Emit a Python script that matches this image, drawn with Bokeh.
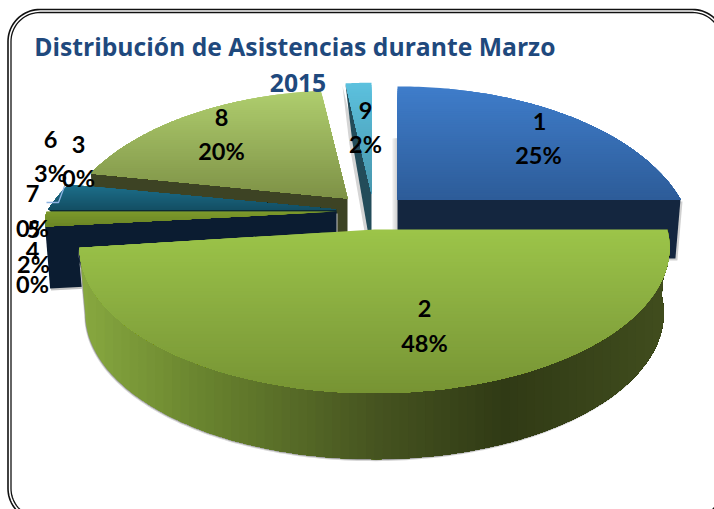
import math
from bokeh.plotting import figure
from bokeh.models import ColumnDataSource
from bokeh.core.properties import value as bk_value
from bokeh.embed import file_html
from bokeh.resources import INLINE

# ---- data -------------------------------------------------------------
title_lines = ["Distribución de Asistencias durante  Marzo", "2015"]
categories = ["1", "2", "3", "4", "5", "6", "7", "8", "9"]
percentages = [25, 48, 0, 0, 2, 3, 0, 20, 2]

# ---- layout / style ---------------------------------------------------
W, H = 714, 509
FONT = "Lato"
TITLE_FONT = "Open Sans"
geom = {
    "1": dict(cx=397, cy=199, a=283, b=147, p=.30, t=59, sx=.982),
    "2": dict(cx=374, cy=229, a=293, b=144, p=.12, t=66, sx=.98),
    "5": dict(cx=336, cy=211, a=290, b=118, p=.10, t=62, sx=.983),
    "6": dict(cx=336, cy=209, a=288, b=141, p=.30, t=5, sx=.983),
    "8": dict(cx=347, cy=198, a=276, b=141, p=.30, t=59, sx=.983),
    "9": dict(cx=371, cy=193, a=270, b=144, p=.30, t=59, sx=.73),
}
top_stops = {
    "1": [(0, "#3f7dca"), (1, "#2d5c99")],
    "2": [(0, "#9cc549"), (.55, "#87a93f"), (1, "#779433")],
    "5": [(0, "#7d9a2c"), (1, "#6b8426")],
    "6": [(0, "#1d708c"), (1, "#134f64")],
    "8": [(0, "#b0ce6e"), (1, "#7d9146")],
    "9": [(0, "#5cc1de"), (1, "#4896ad")],
}
edge_color = {"1": "#14263f", "5": "#0b1c31", "6": "#0c2a36", "8": "#3d4324", "9": "#234c5a"}
wall2_stops = [(0, "#88a940"), (.2, "#6a852f"), (.5, "#465420"), (.72, "#303a15"), (1, "#414e1e")]
label_pos = {
    "1": (539, 121, 538, 154), "2": (424, 308, 424, 342), "3": (78, 144, 78, 177),
    "4": (32, 250, 32, 283), "5": (33, 229, 33, 263), "6": (50, 139, 50, 172),
    "7": (32, 193, 32, 227), "8": (221, 117, 221, 150), "9": (365, 110, 365, 143),
}

# ---- geometry helpers -------------------------------------------------
spans = {}
acc = 0.0
for c, v in zip(categories, percentages):
    spans[c] = (acc * 3.6, (acc + v) * 3.6)
    acc += v


def pt(c, deg):
    g = geom[c]
    th = math.radians(deg)
    u, v = math.sin(th), -math.cos(th)
    d = 1 - g["p"] * v
    return g["cx"] + g["a"] * u / d, g["cy"] + g["b"] * v / d


def lower(c, x, y):
    g = geom[c]
    return g["cx"] + (x - g["cx"]) * g["sx"], y + g["t"]


def arc(c, a0, a1, n=80):
    return [pt(c, a0 + (a1 - a0) * i / n) for i in range(n + 1)]


def hexrgb(h):
    return tuple(int(h[i:i + 2], 16) for i in (1, 3, 5))


def mix(stops, f):
    f = min(1, max(0, f))
    for (p0, c0), (p1, c1) in zip(stops, stops[1:]):
        if f <= p1:
            k = (f - p0) / (p1 - p0)
            r0, r1 = hexrgb(c0), hexrgb(c1)
            return "#%02x%02x%02x" % tuple(round(a + (b - a) * k) for a, b in zip(r0, r1))
    return stops[-1][1]


def clip(poly, axis, lim):
    out = []
    n = len(poly)
    for i in range(n):
        a, b = poly[i], poly[(i + 1) % n]
        ia, ib = a[axis] >= lim, b[axis] >= lim
        if ia:
            out.append(a)
        if ia != ib:
            k = (lim - a[axis]) / (b[axis] - a[axis])
            out.append((a[0] + (b[0] - a[0]) * k, a[1] + (b[1] - a[1]) * k))
    return out


xs, ys, fills = [], [], []


def add(poly, color):
    if len(poly) < 3:
        return
    xs.append([q[0] for q in poly])
    ys.append([q[1] for q in poly])
    fills.append(color)


def gradient(poly, stops, axis, n=50):
    # painter's gradient: each step repaints everything beyond its start
    vals = [q[axis] for q in poly]
    lo, hi = min(vals), max(vals)
    for i in range(n):
        add(clip(poly, axis, lo + (hi - lo) * i / n), mix(stops, (i + .5) / n))


def top_face(c):
    a0, a1 = spans[c]
    g = geom[c]
    gradient([(g["cx"], g["cy"])] + arc(c, a0, a1), top_stops[c], 1)


def edge_wall(c, deg):
    g = geom[c]
    o = pt(c, deg)
    ap = (g["cx"], g["cy"])
    return [ap, o, lower(c, *o), lower(c, *ap)]


def shifted(poly, dx, dy):
    return [(x + dx, y + dy) for x, y in poly]


# ---- assemble back to front -------------------------------------------
# sector 1
w = edge_wall("1", spans["1"][1])
add(shifted(w, 2, 2), "#d0d0d0")
gradient([(392, 138), (397, 138), (397, 232), (392, 232)], [(0, "#f2f2f2"), (1, "#cfcfcf")], 0, 5)
add(w, edge_color["1"])
top_face("1")
# sector 9
w = edge_wall("9", spans["9"][0])
add(shifted(w, -3, 2), "#d5d5d5")
add(w, edge_color["9"])
top_face("9")
# sector 8
w = edge_wall("8", spans["8"][0])
add(w, edge_color["8"])
top_face("8")
# sector 6 and 5
add(edge_wall("6", spans["6"][0]), edge_color["6"])
top_face("6")
w = edge_wall("5", spans["5"][0])
add(shifted(w, 1, 2), "#c4c4c4")
add(w, edge_color["5"])
top_face("5")
# sector 2
a0, a1 = spans["2"]
top_curve = arc("2", a0, a1, 160)
wall = top_curve + [lower("2", *q) for q in reversed(top_curve)]
add(shifted(wall, -1, 2), "#d8d8d8")
add(shifted(wall, -.5, 1), "#9a9a9a")
gradient(wall, wall2_stops, 0, 70)
top_face("2")

p = figure(width=W, height=H, x_range=(0, W), y_range=(H, 0),
           output_backend="svg", toolbar_location=None, min_border=0,
           background_fill_color="white", border_fill_color="white", outline_line_color=None)
p.axis.visible = False
p.grid.visible = False

# frame: double rounded line
for inset, lw in ((0, 1.6), (3, 1.3)):
    L, T, R, B = 7.5 + inset, 9 + inset, 724 - inset, 520 - inset
    r = 32 - inset
    fx, fy = [], []
    for (ccx, ccy, s) in ((L + r, T + r, 180), (R - r, T + r, 270), (R - r, B - r, 0), (L + r, B - r, 90)):
        for i in range(21):
            t = math.radians(s + 90 * i / 20)
            fx.append(ccx + r * math.cos(t))
            fy.append(ccy + r * math.sin(t))
    fx.append(fx[0])
    fy.append(fy[0])
    p.line(fx, fy, line_color="#111111", line_width=lw)

src = ColumnDataSource(dict(xs=xs, ys=ys, fill=fills))
p.patches("xs", "ys", source=src, fill_color="fill", line_color=None)

# leader line of label 6
p.line([46, 58, 65], [202, 202, 183], line_color="#8db3e2", line_width=1.3)

# title
for line, ty in zip(title_lines, (46, 82)):
    p.text([297.5], [ty], text=[line], text_font=bk_value(TITLE_FONT), text_font_style="bold",
           text_font_size="24.7px", text_color="#1f497d", text_align="center", text_baseline="middle")

# labels
lx, ly, lt = [], [], []
for c, v in zip(categories, percentages):
    x0, y0, x1, y1 = label_pos[c]
    lx += [x0, x1]
    ly += [y0, y1]
    lt += [c, f"{v}%"]
p.text(lx, ly, text=lt, text_font=bk_value(FONT), text_font_style="bold", text_font_size="23.5px",
       text_color="#000000", text_align="center", text_baseline="middle")

open("out.html", "w").write(file_html(p, INLINE))
